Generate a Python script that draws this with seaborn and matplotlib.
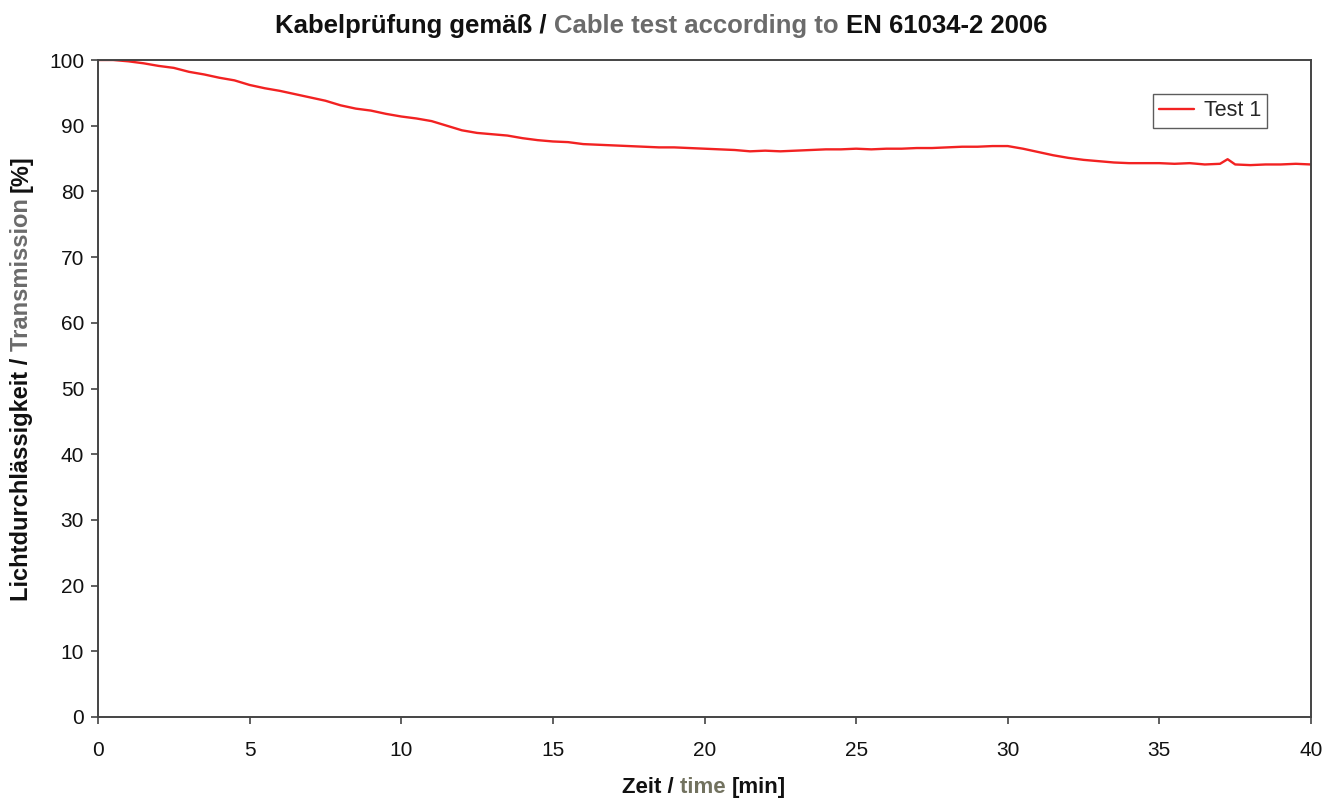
import matplotlib
matplotlib.use("Agg")
import matplotlib.pyplot as plt
import seaborn as sns
import pandas as pd

time_min = [0, 0.5, 1, 1.5, 2, 2.5, 3, 3.5, 4, 4.5, 5, 5.5, 6, 6.5, 7, 7.5, 8, 8.5, 9, 9.5,
            10, 10.5, 11, 11.5, 12, 12.5, 13, 13.5, 14, 14.5, 15, 15.5, 16, 16.5, 17, 17.5,
            18, 18.5, 19, 19.5, 20, 20.5, 21, 21.5, 22, 22.5, 23, 23.5, 24, 24.5, 25, 25.5,
            26, 26.5, 27, 27.5, 28, 28.5, 29, 29.5, 30, 30.5, 31, 31.5, 32, 32.5, 33, 33.5,
            34, 34.5, 35, 35.5, 36, 36.5, 37, 37.25, 37.5, 38, 38.5, 39, 39.5, 40]
transmission = [100.0, 100.0, 99.8, 99.5, 99.1, 98.8, 98.2, 97.8, 97.3, 96.9, 96.2, 95.7,
                95.3, 94.8, 94.3, 93.8, 93.1, 92.6, 92.3, 91.8, 91.4, 91.1, 90.7, 90.0, 89.3,
                88.9, 88.7, 88.5, 88.1, 87.8, 87.6, 87.5, 87.2, 87.1, 87.0, 86.9, 86.8, 86.7,
                86.7, 86.6, 86.5, 86.4, 86.3, 86.1, 86.2, 86.1, 86.2, 86.3, 86.4, 86.4, 86.5,
                86.4, 86.5, 86.5, 86.6, 86.6, 86.7, 86.8, 86.8, 86.9, 86.9, 86.5, 86.0, 85.5,
                85.1, 84.8, 84.6, 84.4, 84.3, 84.3, 84.3, 84.2, 84.3, 84.1, 84.2, 84.9, 84.1,
                84.0, 84.1, 84.1, 84.2, 84.1]
series_name = "Test 1"
x_ticks = [0, 5, 10, 15, 20, 25, 30, 35, 40]
y_ticks = [0, 10, 20, 30, 40, 50, 60, 70, 80, 90, 100]

df = pd.DataFrame({"time": time_min, "value": transmission, "series": series_name})

sns.set_style("white")
plt.rcParams["font.family"] = ["Liberation Sans", "DejaVu Sans"]

W, H = 1341, 799
fig = plt.figure(figsize=(W / 100, H / 100), dpi=100)
ax = fig.add_axes([98 / W, 1 - 717 / H, (1311 - 98) / W, (717 - 60) / H])

sns.lineplot(data=df, x="time", y="value", hue="series", palette=["#f22222"],
             linewidth=1.7, ax=ax, legend=True)

ax.set_xlim(0, 40)
ax.set_ylim(0, 100)
ax.set_xticks(x_ticks)
ax.set_yticks(y_ticks)
ax.set_xlabel("")
ax.set_ylabel("")
ax.tick_params(axis="both", direction="out", length=5, width=1.2, color="#444444",
               labelsize=15, labelcolor="#111111", pad=5)
ax.tick_params(axis="x", pad=12)
ax.xaxis.set_ticks_position("bottom")
ax.yaxis.set_ticks_position("left")
for s in ax.spines.values():
    s.set_visible(True)
    s.set_color("#444444")
    s.set_linewidth(1.4)

leg = ax.legend(loc="upper left", bbox_to_anchor=((1153 - 98) / (1311 - 98), 1 - (94 - 60) / (717 - 60)),
                fontsize=15.5, frameon=True, fancybox=False, handlelength=1.6, handletextpad=0.45,
                borderpad=0.3, borderaxespad=0)
leg.get_frame().set_edgecolor("#333333")
leg.get_frame().set_linewidth(1.0)

dark = "#111111"
grey = "#6b6b6b"
grey2 = "#72725f"

def chain(parts, x_px, y_px, size, rotation=0):
    # x_px: horizontal center (rotation 0) or baseline x (rotation 90)
    # y_px: baseline y from top (rotation 0) or vertical center (rotation 90)
    texts = []
    for txt, col, wt in parts:
        t = fig.text(0, 0, txt, fontsize=size, color=col, fontweight=wt,
                     ha="left", va="baseline", rotation=rotation, rotation_mode="anchor")
        texts.append(t)
    fig.canvas.draw()
    r = fig.canvas.get_renderer()
    boxes = [t.get_window_extent(r) for t in texts]
    if rotation == 0:
        total = sum(b.width for b in boxes)
        start = x_px - total / 2
        for t, b in zip(texts, boxes):
            t.set_position((start / W, 1 - y_px / H))
            start += b.width
    else:
        total = sum(b.height for b in boxes)
        start = (H - y_px) - total / 2
        for t, b in zip(texts, boxes):
            t.set_position((x_px / W, start / H))
            start += b.height

chain([("Kabelprüfung gemäß / ", dark, "bold"),
       ("Cable test according to ", grey, "bold"),
       ("EN 61034-2 2006", dark, "bold")], 661, 33, 18.5)

chain([("Zeit / ", dark, "bold"), ("time ", grey2, "bold"), ("[min]", dark, "bold")],
      704, 793, 16)

chain([("Lichtdurchlässigkeit / ", dark, "bold"), ("Transmission ", grey, "bold"),
       ("[%]", dark, "bold")], 28, 378, 17, rotation=90)

fig.savefig("out.png", dpi=100, facecolor="white")
